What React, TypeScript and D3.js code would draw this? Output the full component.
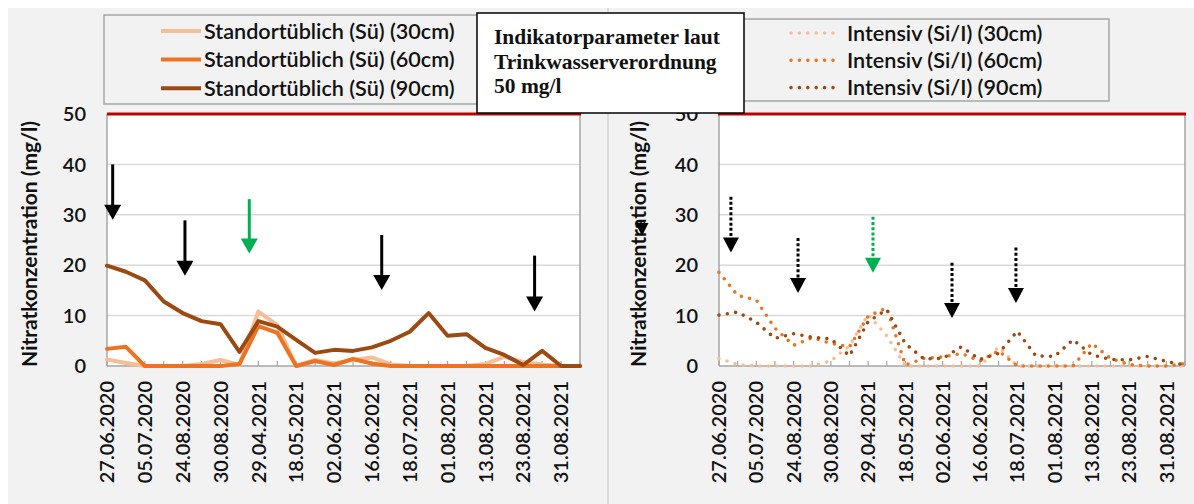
import React from "react";
import * as d3 from "d3";

const W = 1194;
const H = 504;

// category axis: 26 sampling dates, every second one labelled
const N_POINTS = 26;
const dateLabels = [
  "27.06.2020", "05.07.2020", "24.08.2020", "30.08.2020", "29.04.2021",
  "18.05.2021", "02.06.2021", "16.06.2021", "18.07.2021", "01.08.2021",
  "13.08.2021", "23.08.2021", "31.08.2021",
];
const yTicks = [0, 10, 20, 30, 40, 50];
const limitValue = 50;

// Standortüblich (Sü)
const std30 = [1.3, 0.6, 0, 0, 0, 0.4, 1.2, 0.2, 10.8, 8.1, 0, 1.2, 0.5, 1.2, 1.7, 0.3, 0, 0, 0, 0, 0.4, 1.8, 0.8, 0.3, 0, 0];
const std60 = [3.4, 3.8, 0, 0, 0, 0, 0, 0.4, 7.9, 6.6, 0, 1.0, 0.2, 1.4, 0.5, 0, 0, 0, 0, 0, 0, 0, 0, 0, 0, 0];
const std90 = [19.9, 18.7, 17.0, 12.8, 10.5, 8.9, 8.3, 2.8, 8.9, 7.8, 5.2, 2.6, 3.2, 3.0, 3.7, 5.0, 6.8, 10.5, 6.0, 6.3, 3.6, 2.2, 0.2, 3.0, 0, 0];

// Intensiv (Si/I)
const int30 = [1.5, 0.3, 0, 0, 0, 0, 1.0, 4.0, 10.2, 6.0, 0, 0, 0, 0, 0, 3.8, 0, 0, 0, 0, 0, 0, 0, 0, 0, 0];
const int60 = [18.6, 14.0, 13.1, 7.5, 4.1, 5.6, 4.5, 3.8, 9.9, 11.5, 0.2, 1.5, 1.8, 2.5, 1.0, 3.0, 0, 0, 0, 0, 4.5, 1.5, 0.3, 0, 0, 0.5];
const int90 = [10.1, 10.7, 8.7, 5.5, 6.4, 5.7, 5.4, 2.0, 8.8, 11.2, 4.4, 1.4, 1.5, 3.8, 1.3, 2.5, 6.9, 2.0, 1.9, 5.2, 2.2, 1.3, 1.2, 1.9, 0.9, 0.2];

const legendStd = ["Standortüblich (Sü) (30cm)", "Standortüblich (Sü) (60cm)", "Standortüblich (Sü) (90cm)"];
const legendInt = ["Intensiv (Si/I) (30cm)", "Intensiv (Si/I) (60cm)", "Intensiv (Si/I) (90cm)"];
const boxLines = ["Indikatorparameter laut", "Trinkwasserverordnung", "50 mg/l"];
const yTitle = "Nitratkonzentration (mg/l)";

// annotation arrows: position on the category axis, start / end value
const arrowsStd = [
  { at: 0.3, from: 40, to: 29, green: false },
  { at: 4.12, from: 28.9, to: 17.9, green: false },
  { at: 7.52, from: 33.1, to: 22.3, green: true },
  { at: 14.52, from: 26, to: 15.1, green: false },
  { at: 22.6, from: 21.9, to: 10.8, green: false },
];
const arrowsInt = [
  { at: 0.64, from: 33.6, to: 22.5, green: false },
  { at: 4.24, from: 25.4, to: 14.5, green: false },
  { at: 8.26, from: 29.6, to: 18.5, green: true },
  { at: 12.5, from: 20.5, to: 9.5, green: false },
  { at: 15.93, from: 23.5, to: 12.5, green: false },
];
const strayHead = { at: -4.13, to: 25.8 };

const C30 = "#f7bd94";
const C60 = "#eb7322";
const C90 = "#9c4a12";
const GREEN = "#00b050";
const TXT = "#111111";
const SANS = "Lato, 'Open Sans', sans-serif";
const SERIF = "'Liberation Serif', 'Times New Roman', serif";

const plotTop = 114;
const plotBottom = 366;

type Arrow = { at: number; from: number; to: number; green: boolean };

function Panel(props: {
  left: number;
  right: number;
  series: { values: number[]; color: string }[];
  dotted: boolean;
  arrows: Arrow[];
  titleX: number;
  redFrom: number;
  redTo: number;
}) {
  const { left, right, series, dotted, arrows, titleX, redFrom, redTo } = props;
  const idx = d3.range(N_POINTS);
  const x = d3.scaleLinear().domain([0, N_POINTS - 1]).range([left, right]);
  const y = d3.scaleLinear().domain([0, 50]).range([plotBottom, plotTop]);
  const line = d3
    .line<number>()
    .x((_, i) => x(i))
    .y((d) => y(d));

  return (
    <g>
      <rect x={left} y={plotTop} width={right - left} height={plotBottom - plotTop} fill="#ffffff" />
      {yTicks
        .filter((t) => t > 0 && t < 50)
        .map((t) => (
          <line key={t} x1={left} x2={right} y1={y(t)} y2={y(t)} stroke="#d9d9d9" strokeWidth={1.5} />
        ))}
      <line x1={left} x2={left} y1={plotTop} y2={plotBottom} stroke="#a6a6a6" strokeWidth={1.5} />
      <line x1={right} x2={right} y1={plotTop} y2={plotBottom} stroke="#a6a6a6" strokeWidth={1.5} />
      <line x1={left} x2={right} y1={plotBottom} y2={plotBottom} stroke="#a6a6a6" strokeWidth={1.5} />
      {idx.map((i) => (
        <line key={i} x1={x(i)} x2={x(i)} y1={plotBottom} y2={plotBottom - 5} stroke="#a6a6a6" strokeWidth={1.2} />
      ))}
      <line x1={redFrom} x2={redTo} y1={y(limitValue)} y2={y(limitValue)} stroke="#c00000" strokeWidth={3} />
      {yTicks.map((t) => (
        <text
          key={t}
          x={left - 21}
          y={y(t)}
          dy="0.36em"
          textAnchor="end"
          fontFamily={SANS}
          fontSize={20}
          fontWeight={600}
          fill={TXT}
        >
          {t}
        </text>
      ))}
      {dateLabels.map((lab, k) => (
        <text
          key={lab}
          transform={`translate(${x(k * 2)},${plotBottom + 15}) rotate(-90)`}
          dy="0.36em"
          textAnchor="end"
          fontFamily={SANS}
          fontSize={20}
          fontWeight={600}
          fill={TXT}
        >
          {lab}
        </text>
      ))}
      <text
        transform={`translate(${titleX},244) rotate(-90)`}
        dy="0.36em"
        textAnchor="middle"
        fontFamily={SANS}
        fontSize={21}
        fontWeight={700}
        fill={TXT}
      >
        {yTitle}
      </text>
      {series.map((s, k) => (
        <path
          key={k}
          d={line(s.values) || ""}
          fill="none"
          stroke={s.color}
          strokeWidth={dotted ? 3.6 : 4}
          strokeDasharray={dotted ? "0 8.4" : undefined}
          strokeLinecap="round"
          strokeLinejoin="round"
        />
      ))}
      {arrows.map((a, k) => {
        const ax = x(a.at);
        const yTip = y(a.to);
        const yTop = y(a.from);
        const col = a.green ? GREEN : "#000000";
        const hw = dotted ? 8 : 8.5;
        const hh = 15;
        return (
          <g key={k}>
            <line
              x1={ax}
              x2={ax}
              y1={yTop}
              y2={yTip - hh + 1}
              stroke={col}
              strokeWidth={3}
              strokeDasharray={dotted ? "3 2.2" : undefined}
            />
            <path d={`M${ax - hw},${yTip - hh} L${ax + hw},${yTip - hh} L${ax},${yTip} Z`} fill={col} />
          </g>
        );
      })}
    </g>
  );
}

export default function App() {
  const xRight = d3.scaleLinear().domain([0, N_POINTS - 1]).range([719, 1185]);
  const yAll = d3.scaleLinear().domain([0, 50]).range([plotBottom, plotTop]);
  const sx = xRight(strayHead.at);
  const sy = yAll(strayHead.to);

  return (
    <svg
      width={W}
      height={H}
      style={{ position: "absolute", left: 0, top: 0, display: "block" }}
    >
      <rect x={0} y={0} width={W} height={H} fill="#ffffff" />
      <rect x={8} y={8} width={W - 8} height={H - 8} fill="#f2f2f2" />
      <line x1={608} x2={608} y1={8} y2={H} stroke="#d4d4d4" strokeWidth={1.5} />

      <Panel
        left={107}
        right={580}
        series={[
          { values: std30, color: C30 },
          { values: std60, color: C60 },
          { values: std90, color: C90 },
        ]}
        dotted={false}
        arrows={arrowsStd}
        titleX={29}
        redFrom={107}
        redTo={581}
      />
      <Panel
        left={719}
        right={1185}
        series={[
          { values: int30, color: C30 },
          { values: int60, color: C60 },
          { values: int90, color: C90 },
        ]}
        dotted={true}
        arrows={arrowsInt}
        titleX={638}
        redFrom={718}
        redTo={1186}
      />
      <path d={`M${sx - 6.5},${sy - 13} L${sx + 6.5},${sy - 13} L${sx},${sy} Z`} fill="#000" />

      {/* left legend */}
      <rect x={104} y={15} width={380} height={89} fill="#f2f2f2" stroke="#a6a6a6" strokeWidth={1.5} />
      {legendStd.map((t, k) => {
        const cy = 31 + k * 28.6;
        const col = [C30, C60, C90][k];
        return (
          <g key={t}>
            <line x1={161} x2={201} y1={cy} y2={cy} stroke={col} strokeWidth={4} />
            <text x={204} y={cy} dy="0.36em" fontFamily={SANS} fontSize={21.6} fontWeight={600} fill={TXT}>
              {t}
            </text>
          </g>
        );
      })}

      {/* right legend */}
      <rect x={743} y={19} width={366} height={82} fill="#f2f2f2" stroke="#a6a6a6" strokeWidth={1.5} />
      {legendInt.map((t, k) => {
        const cy = 33 + k * 27.3;
        const col = [C30, C60, C90][k];
        return (
          <g key={t}>
            <line
              x1={791}
              x2={840}
              y1={cy}
              y2={cy}
              stroke={col}
              strokeWidth={3.6}
              strokeDasharray="0 8.4"
              strokeLinecap="round"
            />
            <text x={847} y={cy} dy="0.36em" fontFamily={SANS} fontSize={21.6} fontWeight={600} fill={TXT}>
              {t}
            </text>
          </g>
        );
      })}

      {/* limit value box */}
      <rect x={477} y={13} width={267} height={100} fill="#ffffff" stroke="#000000" strokeWidth={1.5} />
      {boxLines.map((t, k) => (
        <text
          key={t}
          x={494}
          y={44 + k * 24.5}
          fontFamily={SERIF}
          fontSize={21.5}
          fontWeight={700}
          fill={TXT}
        >
          {t}
        </text>
      ))}
    </svg>
  );
}
